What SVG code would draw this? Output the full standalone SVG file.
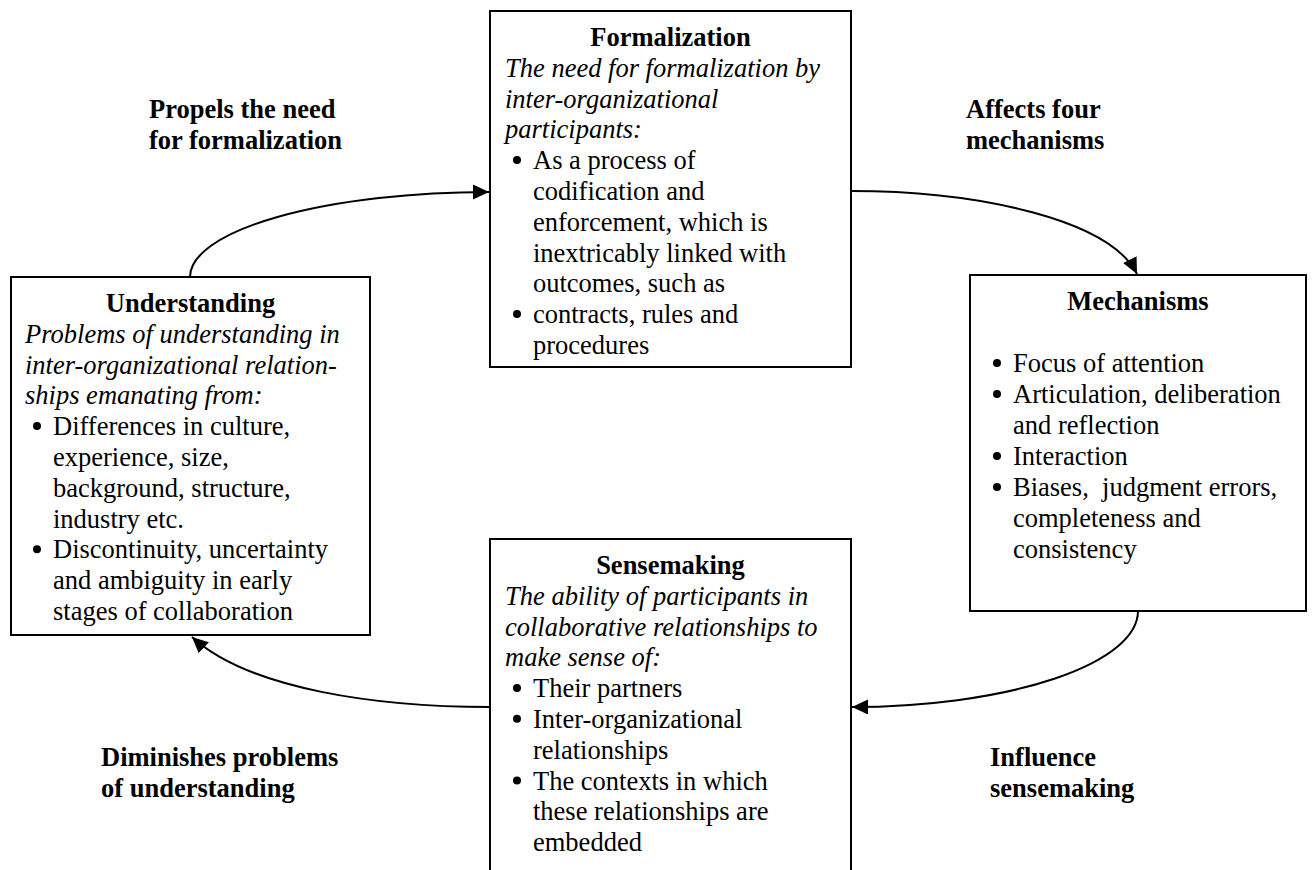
<svg xmlns="http://www.w3.org/2000/svg" width="1313" height="870" viewBox="0 0 1313 870">
  <style>
    text { font-family: "Liberation Serif", "Times New Roman", serif; font-size: 26.5px; fill: #000; }
    .title { font-weight: bold; text-anchor: middle; }
    .lead { font-style: italic; }
    .label { font-weight: bold; }
    .box { fill: #fff; stroke: #000; stroke-width: 2; }
    .dot { fill: #000; }
    .link { fill: none; stroke: #000; stroke-width: 2; }
  </style>
  <defs>
    <marker id="arrow" markerUnits="userSpaceOnUse" markerWidth="18" markerHeight="18" refX="16" refY="7.5" orient="auto">
      <path d="M0,0 L16,7.5 L0,15 Z" fill="#000"/>
    </marker>
  </defs>
  <rect width="1313" height="870" fill="#fff"/>

  <!-- Formalization -->
  <g id="formalization">
    <rect class="box" x="490" y="11" width="361" height="356"/>
    <text class="title" x="670.5" y="46">Formalization</text>
    <text class="lead" x="505" y="76.8">The need for formalization by</text>
    <text class="lead" x="505" y="107.6">inter-organizational</text>
    <text class="lead" x="505" y="138.4">participants:</text>
    <circle class="dot" cx="517" cy="160" r="4"/>
    <text x="533" y="169.2">As a process of</text>
    <text x="533" y="200">codification and</text>
    <text x="533" y="230.8">enforcement, which is</text>
    <text x="533" y="261.6">inextricably linked with</text>
    <text x="533" y="292.4">outcomes, such as</text>
    <circle class="dot" cx="517" cy="314" r="4"/>
    <text x="533" y="323.2">contracts, rules and</text>
    <text x="533" y="354">procedures</text>
  </g>

  <!-- Understanding -->
  <g id="understanding">
    <rect class="box" x="11" y="277" width="359" height="358"/>
    <text class="title" x="190.5" y="312">Understanding</text>
    <text class="lead" x="25" y="342.8">Problems of understanding in</text>
    <text class="lead" x="25" y="373.6">inter-organizational relation-</text>
    <text class="lead" x="25" y="404.4">ships emanating from:</text>
    <circle class="dot" cx="37" cy="426" r="4"/>
    <text x="53" y="435.2">Differences in culture,</text>
    <text x="53" y="466">experience, size,</text>
    <text x="53" y="496.8">background, structure,</text>
    <text x="53" y="527.6">industry etc.</text>
    <circle class="dot" cx="37" cy="549.2" r="4"/>
    <text x="53" y="558.4">Discontinuity, uncertainty</text>
    <text x="53" y="589.2">and ambiguity in early</text>
    <text x="53" y="620">stages of collaboration</text>
  </g>

  <!-- Mechanisms -->
  <g id="mechanisms">
    <rect class="box" x="970" y="275" width="336" height="336"/>
    <text class="title" x="1138" y="310">Mechanisms</text>
    <circle class="dot" cx="997" cy="363" r="4"/>
    <text x="1013" y="372">Focus of attention</text>
    <circle class="dot" cx="997" cy="394" r="4"/>
    <text x="1013" y="403">Articulation, deliberation</text>
    <text x="1013" y="434">and reflection</text>
    <circle class="dot" cx="997" cy="456" r="4"/>
    <text x="1013" y="465">Interaction</text>
    <circle class="dot" cx="997" cy="487" r="4"/>
    <text x="1013" y="496" xml:space="preserve">Biases,  judgment errors,</text>
    <text x="1013" y="527">completeness and</text>
    <text x="1013" y="558">consistency</text>
  </g>

  <!-- Sensemaking -->
  <g id="sensemaking">
    <rect class="box" x="490" y="539" width="361" height="345"/>
    <text class="title" x="670.5" y="574">Sensemaking</text>
    <text class="lead" x="505" y="604.8">The ability of participants in</text>
    <text class="lead" x="505" y="635.6">collaborative relationships to</text>
    <text class="lead" x="505" y="666.4">make sense of:</text>
    <circle class="dot" cx="517" cy="688" r="4"/>
    <text x="533" y="697.2">Their partners</text>
    <circle class="dot" cx="517" cy="718.8" r="4"/>
    <text x="533" y="728">Inter-organizational</text>
    <text x="533" y="758.8">relationships</text>
    <circle class="dot" cx="517" cy="780.4" r="4"/>
    <text x="533" y="789.6">The contexts in which</text>
    <text x="533" y="820.4">these relationships are</text>
    <text x="533" y="851.2">embedded</text>
  </g>

  <!-- Connectors -->
  <g id="connectors">
    <path class="link" d="M190,277 A300,85 0 0 1 489,192" marker-end="url(#arrow)"/>
    <path class="link" d="M851,191 C980,191 1110,220 1137,274" marker-end="url(#arrow)"/>
    <path class="link" d="M1138,611 A287,96 0 0 1 852,707" marker-end="url(#arrow)"/>
    <path class="link" d="M490,707 C380,707 250,690 192,637" marker-end="url(#arrow)"/>
  </g>

  <!-- Connector labels -->
  <g id="labels">
    <text class="label" x="149" y="118">Propels the need</text>
    <text class="label" x="149" y="149">for formalization</text>
    <text class="label" x="966" y="118">Affects four</text>
    <text class="label" x="966" y="149">mechanisms</text>
    <text class="label" x="101" y="766">Diminishes problems</text>
    <text class="label" x="101" y="797">of understanding</text>
    <text class="label" x="990" y="766">Influence</text>
    <text class="label" x="990" y="797">sensemaking</text>
  </g>
</svg>
